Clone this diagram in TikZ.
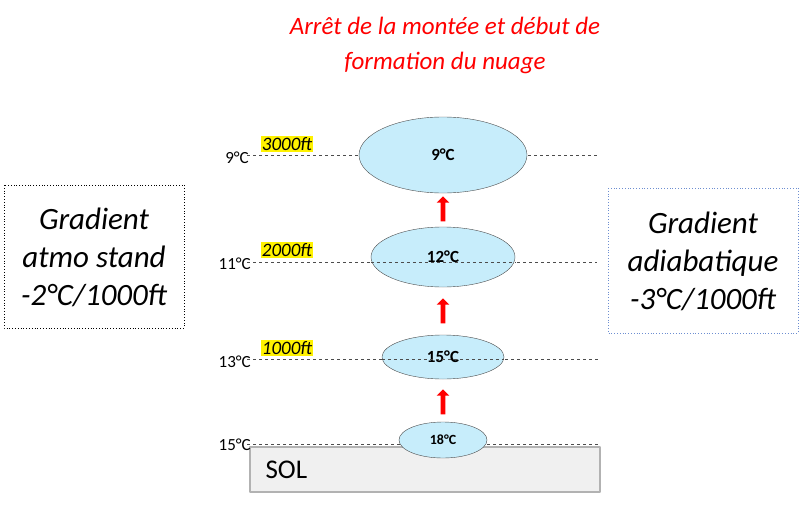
\documentclass[tikz,border=0pt]{standalone}
\usepackage{fontspec}
\setmainfont{Carlito}
\usetikzlibrary{arrows,shapes.arrows,shapes.geometric,positioning}
\begin{document}
\begin{tikzpicture}[
    x=1pt,y=-1pt,
    line join=round,
    bubble/.style={ellipse,draw=black!70,fill=cyan!22,
        inner sep=0pt,font=\bfseries\fontsize{17}{17}\selectfont},
    level/.style={dashed,black!70,thin},
    temp/.style={anchor=east,inner sep=1pt,font=\fontsize{17}{17}\selectfont},
    alt/.style={fill=yellow,inner sep=1pt,font=\itshape\fontsize{19}{19}\selectfont},
    rise/.style={single arrow,fill=red,draw=none,rotate=90,minimum height=25pt,
        single arrow head extend=4pt,inner sep=2.2pt},
    legend/.style={align=center,font=\itshape\fontsize{31}{38}\selectfont}
  ]
    \useasboundingbox (0,0) rectangle (800,506);

    % title
    \node[red,align=center,font=\itshape\fontsize{25}{35}\selectfont] (title) at (445,45)
        {Arrêt de la montée et début de\\formation du nuage};

    % ground
    \draw[gray!60,fill=gray!12,line width=2pt] (250,447) rectangle (600,492);
    \node[anchor=west,font=\fontsize{27}{27}\selectfont] (sol) at (262,470) {SOL};

    % levels
    \draw[level] (247,155) -- (360,155) (528,155) -- (597,155);
    \draw[level] (247,262) -- (597,262);
    \draw[level] (247,359) -- (600,359);
    \draw[level] (247,444) -- (600,444);

    % parcel
    \node[bubble,minimum width=168pt,minimum height=76pt] (p9) at (443,155) {9°C};
    \node[bubble,minimum width=144pt,minimum height=60pt] (p12) at (443,257) {12°C};
    \node[bubble,minimum width=122pt,minimum height=44pt] (p15) at (443,357) {15°C};
    \node[bubble,minimum width=88pt,minimum height=36pt,
        font=\bfseries\fontsize{14}{14}\selectfont] (p18) at (443,440) {18°C};
    \draw[level] (p12.west |- 0,262) -- (p12.east |- 0,262);
    \draw[level] (p15.west |- 0,359) -- (p15.east |- 0,359);

    \node[rise] (r1) at (443,210) {};
    \node[rise] (r2) at (443,312) {};
    \node[rise] (r3) at (443,403) {};

    % temperatures
    \node[temp] (t9) at (250,158) {9°C};
    \node[temp] (t11) at (252,264) {11°C};
    \node[temp] (t13) at (252,362) {13°C};
    \node[temp] (t15) at (252,445) {15°C};
    \node[alt] (a3) at (287,144) {3000ft};
    \node[alt] (a2) at (287,250) {2000ft};
    \node[alt] (a1) at (287,348) {1000ft};

    % gradients
    \draw[dotted,thick] (4,185) rectangle (184,328);
    \node[legend] (atmo) at (94,257) {Gradient\\atmo stand\\-2°C/1000ft};
    \draw[dotted,thick,cyan!40!blue!60] (608,188) rectangle (798,333);
    \node[legend] (adia) at (703,261) {Gradient\\adiabatique\\-3°C/1000ft};
\end{tikzpicture}
\end{document}
